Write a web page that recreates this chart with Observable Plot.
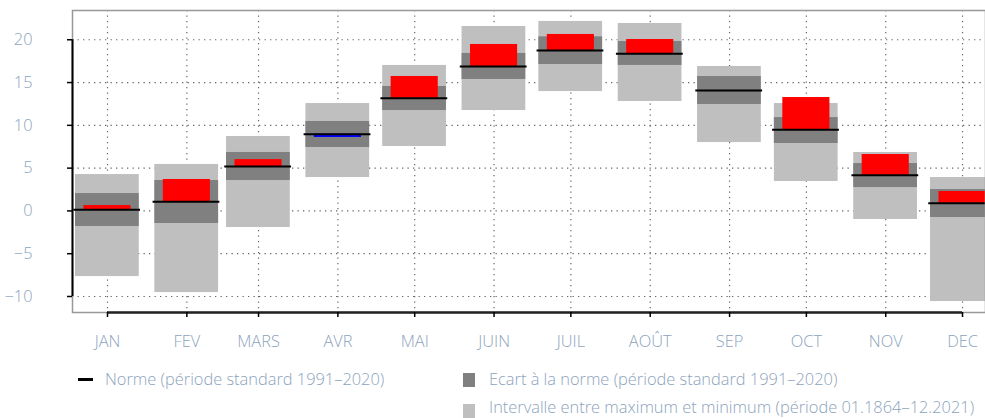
<!DOCTYPE html>
<html><head><meta charset="utf-8">
<script src="https://cdn.jsdelivr.net/npm/d3@7"></script>
<script src="https://cdn.jsdelivr.net/npm/@observablehq/plot@0.6"></script>
<style>
html,body{margin:0;padding:0;background:#fff;overflow:hidden;width:985px;height:418px}
body{font-family:"Open Sans","Noto Sans",sans-serif;font-weight:300}
#chart{height:362px}
#legend{position:relative;height:56px;color:#8ca3bd;font-size:16.4px}
#legend .item{position:absolute;white-space:nowrap;line-height:20px}
#legend .sw{position:absolute}
</style></head><body>
<div id="chart"></div>
<div id="legend"></div>
<script>
const months = ["JAN","FEV","MARS","AVR","MAI","JUIN","JUIL","AOÛT","SEP","OCT","NOV","DEC"];
const recMax  = [4.25, 5.43, 8.70, 12.55, 17.0, 21.55, 22.14, 21.9, 16.88, 12.55, 6.83, 3.9];
const recMin  = [-7.67, -9.54, -1.94, 3.9, 7.53, 11.73, 13.95, 12.79, 7.99, 3.44, -1.0, -10.59];
const normHigh = [2.03, 3.55, 6.83, 10.45, 14.54, 18.4, 20.34, 19.8, 15.71, 10.91, 5.54, 2.5];
const normLow  = [-1.82, -1.47, 3.55, 7.41, 11.73, 15.36, 17.11, 17.0, 12.44, 7.88, 2.73, -0.77];
const norm     = [0.14, 1.06, 5.19, 8.97, 13.17, 16.88, 18.75, 18.36, 14.07, 9.48, 4.17, 0.9];
const value    = [0.63, 3.67, 6.0, 8.58, 15.71, 19.45, 20.62, 20.03, 14.07, 13.25, 6.59, 2.27];
const yTicks = [-10, -5, 0, 5, 10, 15, 20];
const legendLabels = [
  "Norme (période standard 1991–2020)",
  "Ecart à la norme (période standard 1991–2020)",
  "Intervalle entre maximum et minimum (période 01.1864–12.2021)"
];

const DAY = 864e5;
const dates = months.map((m, i) => new Date(Date.UTC(2022, i, 1)));
const data = months.map((m, i) => ({
  month: m, date: dates[i], max: recMax[i], min: recMin[i],
  hi: normHigh[i], lo: normLow[i], norm: norm[i], value: value[i]
}));
const shift = (d, days) => new Date(+d + days * DAY);
const xDomain = [shift(dates[0], -13.67), shift(dates[0], 342.97)];
const yDomain = [-11.87, 23.42];
const textColor = "#8ca3bd";

const chart = Plot.plot({
  width: 985, height: 362,
  marginLeft: 72, marginRight: 0, marginTop: 10, marginBottom: 50,
  style: {fontSize: "16.4px", fontFamily: '"Open Sans","Noto Sans",sans-serif', fontWeight: 300, background: "#fff"},
  x: {type: "utc", domain: xDomain},
  y: {domain: yDomain},
  marks: [
    Plot.gridY(yTicks, {stroke: "#666", strokeOpacity: 1, strokeDasharray: "1.3,4.2", strokeWidth: 1.2}),
    Plot.gridX(dates, {stroke: "#666", strokeOpacity: 1, strokeDasharray: "1.3,4.2", strokeWidth: 1.2}),
    Plot.rectY(data, {x1: d => shift(d.date, -12.5), x2: d => shift(d.date, 12.4), y1: "min", y2: "max", fill: "#bfbfbf"}),
    Plot.rectY(data, {x1: d => shift(d.date, -12.5), x2: d => shift(d.date, 12.4), y1: "lo", y2: "hi", fill: "#808080"}),
    Plot.rectY(data, {x1: d => shift(d.date, -9.2), x2: d => shift(d.date, 9.2), y1: "norm", y2: "value",
      fill: d => d.value >= d.norm ? "#ff0000" : "#0000ff"}),
    Plot.ruleY(data, {y: "norm", x1: d => shift(d.date, -13.2), x2: d => shift(d.date, 12.9), stroke: "#000", strokeWidth: 2}),
    Plot.frame({stroke: "#999", strokeWidth: 1.5}),
    Plot.ruleX([xDomain[0]], {y1: yTicks[0], y2: yTicks[yTicks.length - 1], stroke: "#000", strokeWidth: 2}),
    Plot.ruleY([yDomain[0]], {x1: dates[0], x2: dates[11], stroke: "#222", strokeWidth: 2.5}),
    Plot.axisY(yTicks, {tickSize: 5, tickPadding: 35, stroke: "#000", fill: textColor, strokeWidth: 1.5}),
    Plot.axisX(dates, {tickSize: 5, tickPadding: 18, stroke: "#000", fill: textColor, strokeWidth: 1.5,
      tickFormat: d => months[d.getUTCMonth()]})
  ]
});
document.getElementById("chart").appendChild(chart);

const lg = document.getElementById("legend");
lg.innerHTML =
  `<div class="sw" style="left:78px;top:16px;width:15px;height:3px;background:#000"></div>
   <div class="item" style="left:105px;top:7px">${legendLabels[0]}</div>
   <div class="sw" style="left:463px;top:11px;width:12px;height:14px;background:#808080"></div>
   <div class="item" style="left:489px;top:7px">${legendLabels[1]}</div>
   <div class="sw" style="left:463px;top:42px;width:12px;height:14px;background:#bfbfbf"></div>
   <div class="item" style="left:489px;top:35px">${legendLabels[2]}</div>`;
</script>
</body></html>
